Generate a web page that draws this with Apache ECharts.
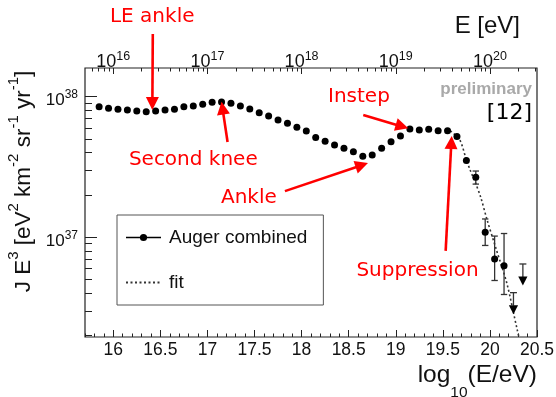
<!DOCTYPE html>
<html>
<head>
<meta charset="utf-8">
<script src="https://cdn.jsdelivr.net/npm/echarts@6/dist/echarts.min.js"></script>
<style>
  html, body { margin: 0; padding: 0; background: #fff; }
  #c { width: 556px; height: 397px; }
</style>
</head>
<body>
<div id="c"></div>
<script>
// Auger combined energy spectrum, flux scaled by E^3

// bin centres, log10(E/eV)
const logE = [15.85, 15.95, 16.05, 16.15, 16.25, 16.35, 16.45, 16.55, 16.65, 16.75,
              16.85, 16.95, 17.05, 17.15, 17.25, 17.35, 17.45, 17.55, 17.65, 17.75,
              17.85, 17.95, 18.05, 18.15, 18.25, 18.35, 18.45, 18.55, 18.65, 18.75,
              18.85, 18.95, 19.05, 19.15, 19.25, 19.35, 19.45, 19.55, 19.65, 19.75,
              19.85, 19.95, 20.05, 20.15];
// J E^3 [eV^2 km^-2 sr^-1 yr^-1]
const fluxE3 = [8.49e37, 8.27e37, 8.14e37, 8.04e37, 7.91e37, 7.82e37, 7.91e37, 8.04e37, 8.14e37, 8.49e37,
                8.59e37, 8.83e37, 9.12e37, 9.17e37, 8.98e37, 8.59e37, 8.18e37, 7.69e37, 7.29e37, 6.83e37,
                6.47e37, 6.06e37, 5.70e37, 5.13e37, 4.82e37, 4.54e37, 4.30e37, 4.06e37, 3.77e37, 3.85e37,
                4.30e37, 4.79e37, 5.25e37, 5.89e37, 5.80e37, 5.86e37, 5.73e37, 5.73e37, 5.20e37, 3.52e37,
                2.67e37, 1.085e37, 7.02e36, 6.28e36];

// statistical error bars on the highest-energy bins
const errLogE = [19.85, 19.95, 20.05, 20.15];
const errLow  = [2.39e37, 8.75e36, 4.93e36, 3.92e36];
const errHigh = [2.96e37, 1.35e37, 1.02e37, 1.064e37];

// upper limits
const limLogE = [20.25, 20.35];
const limFlux = [4.04e36, 6.46e36];

// fitted suppression
const fitLogE = [19.58, 19.68, 19.75, 19.79, 19.85, 19.90, 19.97, 20.07, 20.18, 20.29, 20.34];
const fitFlux = [5.72e37, 4.92e37, 3.55e37, 3.01e37, 2.40e37, 1.95e37, 1.33e37, 8.1e36, 4.7e36, 2.2e36, 1.6e36];

// axis ranges and ticks
const X_MIN = 15.7, X_MAX = 20.5;
const Y_MIN = Math.pow(10, 36.291), Y_MAX = Math.pow(10, 38.204);
const xMajorTicks = [16, 16.5, 17, 17.5, 18, 18.5, 19, 19.5, 20, 20.5];
const xMinorTicks = [];
for (let i = 157; i <= 205; i++) xMinorTicks.push(i / 10);
const eMajorTicks = [1e16, 1e17, 1e18, 1e19, 1e20];
const eMinorTicks = [];
for (let n = 15; n <= 20; n++) for (let k = 2; k <= 9; k++) {
  const v = k * Math.pow(10, n);
  if (Math.log10(v) >= X_MIN && Math.log10(v) <= X_MAX) eMinorTicks.push(v);
}
const yMajorTicks = [1e37, 1e38];
const yMinorTicks = [];
for (let n = 36; n <= 37; n++) for (let k = 2; k <= 9; k++) {
  const v = k * Math.pow(10, n);
  if (v >= Y_MIN && v <= Y_MAX) yMinorTicks.push(v);
}

const HELV = "'Liberation Sans', Arial, sans-serif";
const DEJA = "'DejaVu Sans', sans-serif";
const RED = '#ff0000';
const INK = '#111';

const powLabel = v => '{b|10}{s|' + Math.round(Math.log10(v)) + '}';
const yPowRich = {
  b: { fontSize: 17, fontFamily: HELV, color: INK, lineHeight: 24 },
  s: { fontSize: 12, fontFamily: HELV, color: INK, lineHeight: 12, verticalAlign: 'top' }
};
const ePowRich = {
  b: { fontSize: 18, fontFamily: HELV, color: INK, lineHeight: 24 },
  s: { fontSize: 12.5, fontFamily: HELV, color: INK, lineHeight: 12, verticalAlign: 'top' }
};

const chart = echarts.init(document.getElementById('c'), null, { renderer: 'canvas' });

const tickStyle = { color: '#222', width: 1 };

chart.setOption({
  animation: false,
  backgroundColor: '#fff',
  grid: {
    left: 85, right: 19, top: 68, bottom: 60,
    containLabel: false, outerBoundsMode: 'none',
    show: true, borderColor: '#222', borderWidth: 1.2
  },
  legend: {
    left: 117, top: 215, orient: 'vertical',
    padding: [13, 16, 13, 8], itemGap: 26,
    itemWidth: 35, itemHeight: 9,
    borderColor: '#555', borderWidth: 1,
    selectedMode: false,
    textStyle: { fontSize: 19, fontFamily: HELV, color: INK, padding: [0, 0, 0, 3] },
    data: [
      { name: 'Auger combined', lineStyle: { opacity: 1, width: 1.5, color: '#000' } },
      { name: 'fit', itemStyle: { opacity: 0 } }
    ]
  },
  xAxis: [
    {
      type: 'value', min: X_MIN, max: X_MAX, position: 'bottom',
      axisLine: { show: false }, splitLine: { show: false },
      axisTick: { show: true, inside: true, length: 7, customValues: xMajorTicks, lineStyle: tickStyle },
      axisLabel: { customValues: xMajorTicks, margin: 4, fontSize: 17.5, fontFamily: HELV, color: INK },
      name: '{t|log}{sub|10}{t|(E/eV)}', nameLocation: 'end', nameGap: 0,
      nameTextStyle: {
        align: 'right', verticalAlign: 'top', padding: [26, 0, 0, 0],
        rich: {
          t: { fontSize: 24.5, fontFamily: HELV, color: INK, lineHeight: 28, verticalAlign: 'top' },
          sub: { fontSize: 15.5, fontFamily: HELV, color: INK, lineHeight: 38, verticalAlign: 'bottom' }
        }
      }
    },
    {
      type: 'value', min: X_MIN, max: X_MAX, position: 'bottom',
      axisLine: { show: false }, splitLine: { show: false }, axisLabel: { show: false },
      axisTick: { show: true, inside: true, length: 3.5, customValues: xMinorTicks, lineStyle: tickStyle }
    },
    {
      type: 'log', logBase: 10, min: Math.pow(10, X_MIN), max: Math.pow(10, X_MAX), position: 'top',
      axisLine: { show: false }, splitLine: { show: false },
      axisTick: { show: true, inside: true, length: 6, customValues: eMajorTicks, lineStyle: tickStyle },
      axisLabel: { customValues: eMajorTicks, margin: -6, formatter: powLabel, rich: ePowRich }
    },
    {
      type: 'log', logBase: 10, min: Math.pow(10, X_MIN), max: Math.pow(10, X_MAX), position: 'top',
      axisLine: { show: false }, splitLine: { show: false }, axisLabel: { show: false },
      axisTick: { show: true, inside: true, length: 3.5, customValues: eMinorTicks, lineStyle: tickStyle }
    }
  ],
  yAxis: [
    {
      type: 'log', logBase: 10, min: Y_MIN, max: Y_MAX, position: 'left',
      axisLine: { show: false }, splitLine: { show: false },
      axisTick: { show: true, inside: true, length: 12, customValues: yMajorTicks, lineStyle: tickStyle },
      axisLabel: { customValues: yMajorTicks, margin: 7, formatter: powLabel, rich: yPowRich, padding: [8, 0, 0, 0] },
      name: '{t|J E}{s|3}{t| [eV}{s|2}{t| km}{s|-2}{t| sr}{s|-1}{t| yr}{s|-1}{t|]}',
      nameLocation: 'middle', nameRotate: 90, nameGap: 40,
      nameTextStyle: {
        padding: [0, 0, 0, 42],
        rich: {
          t: { fontSize: 22.5, fontFamily: HELV, color: INK, lineHeight: 28, verticalAlign: 'bottom' },
          s: { fontSize: 15, fontFamily: HELV, color: INK, lineHeight: 15, verticalAlign: 'top' }
        }
      }
    },
    {
      type: 'log', logBase: 10, min: Y_MIN, max: Y_MAX, position: 'left',
      axisLine: { show: false }, splitLine: { show: false }, axisLabel: { show: false },
      axisTick: { show: true, inside: true, length: 7, customValues: yMinorTicks, lineStyle: tickStyle }
    }
  ],
  series: [
    {
      name: 'fit', type: 'line', xAxisIndex: 0, yAxisIndex: 0,
      data: fitLogE.map((x, i) => [x, fitFlux[i]]),
      smooth: 0.3, showSymbol: false, symbol: 'none', z: 2,
      lineStyle: { color: '#333', width: 1.6, type: [2, 2.5] },
      itemStyle: { color: '#333' }
    },
    {
      name: 'error bars', type: 'custom', xAxisIndex: 0, yAxisIndex: 0, z: 3,
      data: errLogE.map((x, i) => [x, errLow[i], errHigh[i]]),
      encode: { x: 0, y: [1, 2] },
      renderItem: (params, api) => {
        const x = api.value(0);
        const top = api.coord([x, api.value(2)]);
        const bot = api.coord([x, api.value(1)]);
        const cw = 3.2;
        const st = { stroke: '#333', lineWidth: 1.3 };
        return {
          type: 'group', children: [
            { type: 'line', shape: { x1: top[0], y1: top[1], x2: bot[0], y2: bot[1] }, style: st },
            { type: 'line', shape: { x1: top[0] - cw, y1: top[1], x2: top[0] + cw, y2: top[1] }, style: st },
            { type: 'line', shape: { x1: bot[0] - cw, y1: bot[1], x2: bot[0] + cw, y2: bot[1] }, style: st }
          ]
        };
      }
    },
    {
      name: 'upper limits', type: 'custom', xAxisIndex: 0, yAxisIndex: 0, z: 3,
      data: limLogE.map((x, i) => [x, limFlux[i]]),
      encode: { x: 0, y: 1 },
      renderItem: (params, api) => {
        const p = api.coord([api.value(0), api.value(1)]);
        const x = p[0], y = p[1];
        const st = { stroke: '#333', lineWidth: 1.3 };
        return {
          type: 'group', children: [
            { type: 'line', shape: { x1: x - 3.5, y1: y, x2: x + 3.5, y2: y }, style: st },
            { type: 'line', shape: { x1: x, y1: y, x2: x, y2: y + 13 }, style: st },
            { type: 'polygon', shape: { points: [[x - 4.6, y + 12.5], [x + 4.6, y + 12.5], [x, y + 21.5]] },
              style: { fill: '#000' } }
          ]
        };
      }
    },
    {
      name: 'Auger combined', type: 'line', xAxisIndex: 0, yAxisIndex: 0, z: 4,
      data: logE.map((x, i) => [x, fluxE3[i]]),
      symbol: 'circle', symbolSize: 7, showAllSymbol: true,
      lineStyle: { opacity: 0, color: '#000' },
      itemStyle: { color: '#000' }
    }
  ]
});

// annotations, anchored in data coordinates (log10 E, J E^3)
const notes = [
  { text: 'LE ankle',    at: [16.414, 3.69e38], tail: [16.42, 2.79e38],  tip: [16.415, 8.04e37] },
  { text: 'Second knee', at: [16.85, 3.55e37],  tail: [17.214, 4.76e37], tip: [17.15, 9.21e37] },
  { text: 'Ankle',       at: [17.44, 1.90e37],  tail: [17.823, 2.13e37], tip: [18.705, 3.37e37] },
  { text: 'Instep',      at: [18.609, 9.95e37], tail: [18.655, 7.41e37], tip: [19.133, 5.96e37] },
  { text: 'Suppression', at: [19.231, 5.75e36], tail: [19.53, 8.0e36],   tip: [19.594, 5.25e37] }
];

const toPx = p => chart.convertToPixel({ seriesIndex: 3 }, p);
const shapes = [];
notes.forEach(n => {
  const t = toPx(n.tip), s = toPx(n.tail), c = toPx(n.at);
  const dx = t[0] - s[0], dy = t[1] - s[1];
  const len = Math.hypot(dx, dy), ux = dx / len, uy = dy / len;
  const hl = 13, hw = 6.5;
  const bx = t[0] - ux * hl, by = t[1] - uy * hl;
  shapes.push({ type: 'line', z: 100, shape: { x1: s[0], y1: s[1], x2: bx + ux, y2: by + uy },
                style: { stroke: RED, lineWidth: 2.6 } });
  shapes.push({ type: 'polygon', z: 100,
                shape: { points: [[t[0], t[1]], [bx - uy * hw, by + ux * hw], [bx + uy * hw, by - ux * hw]] },
                style: { fill: RED } });
  shapes.push({ type: 'text', z: 100, x: c[0], y: c[1],
                style: { text: n.text, fill: RED, fontSize: 20, fontFamily: DEJA,
                         align: 'center', verticalAlign: 'middle' } });
});
// title of the upper energy axis
shapes.push({ type: 'text', z: 100, x: 520, y: 26,
              style: { text: 'E [eV]', fill: INK, fontSize: 24, fontFamily: HELV,
                       align: 'right', verticalAlign: 'middle' } });
shapes.push({ type: 'text', z: 100, x: 532, y: 89,
              style: { text: 'preliminary', fill: '#a9a9a9', fontSize: 17, fontWeight: 'bold', fontFamily: HELV,
                       align: 'right', verticalAlign: 'middle' } });
shapes.push({ type: 'text', z: 100, x: 532, y: 113.5,
              style: { text: '[12]', fill: '#000', fontSize: 22, fontFamily: DEJA,
                       align: 'right', verticalAlign: 'middle' } });
chart.setOption({ graphic: shapes });
</script>
</body>
</html>
